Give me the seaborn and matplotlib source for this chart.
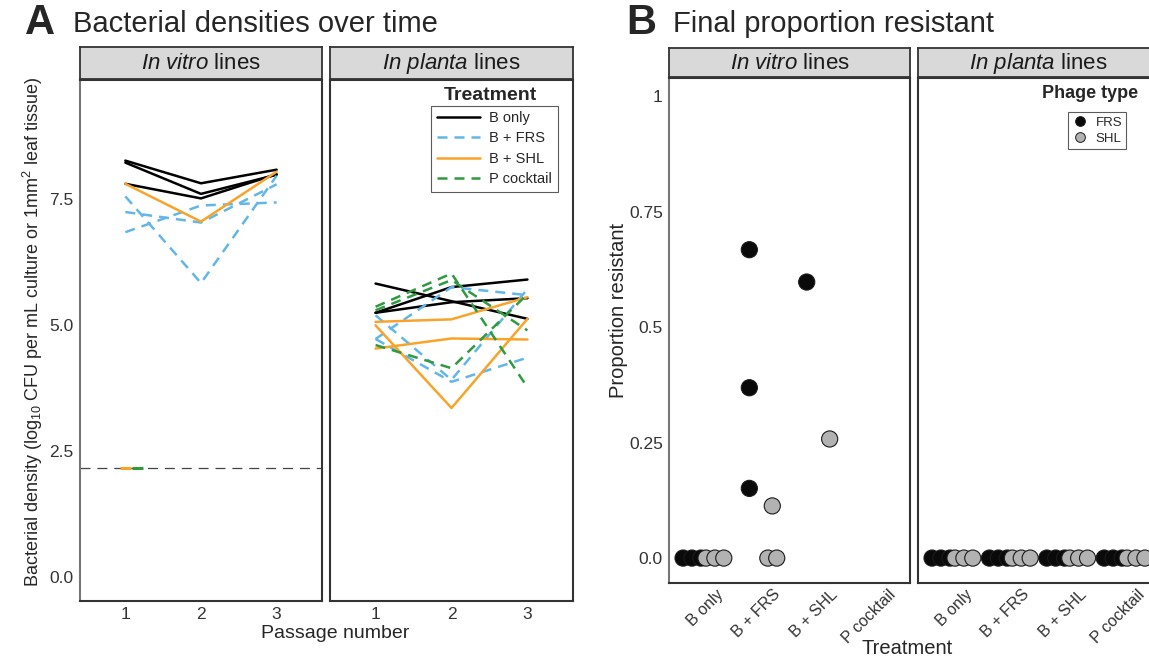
import matplotlib
matplotlib.use('Agg')
import matplotlib.pyplot as plt
from matplotlib.lines import Line2D
from matplotlib.transforms import ScaledTranslation
import numpy as np
import pandas as pd
import seaborn as sns

# ---------------- data ----------------
passages = [1, 2, 3]
treatments = ['B only', 'B + FRS', 'B + SHL', 'P cocktail']

# panel A: log10 bacterial density per line, passages 1-3
vitro_b_only = [[8.27, 7.82, 8.09], [8.23, 7.61, 7.99], [7.81, 7.52, 8.00]]
vitro_b_frs = [[7.56, 5.84, 7.97], [7.25, 7.04, 7.80], [6.85, 7.38, 7.44]]
vitro_b_shl = [[7.81, 7.06, 8.05]]
vitro_p_cocktail = []
planta_b_only = [[5.83, 5.48, 5.13], [5.25, 5.76, 5.91], [5.25, 5.46, 5.54]]
planta_b_frs = [[4.73, 5.76, 5.60], [5.20, 3.92, 5.72], [4.73, 3.88, 4.36]]
planta_b_shl = [[5.07, 5.12, 5.56], [5.00, 3.36, 5.13], [4.54, 4.74, 4.72]]
planta_p_cocktail = [[5.37, 6.03, 3.77], [5.30, 5.90, 4.90], [4.61, 4.15, 5.62]]
detection_limit = 2.17
extinct_vitro = ['B + SHL', 'P cocktail']

# panel B: final proportion resistant, per treatment
phage_types = ['FRS', 'SHL']
vitro_frs = [[0, 0, 0], [0.668, 0.369, 0.151], [0.598], []]
vitro_shl = [[0, 0, 0], [0.113, 0, 0], [0.258], []]
planta_frs = [[0, 0, 0], [0, 0, 0], [0, 0, 0], [0, 0, 0]]
planta_shl = [[0, 0, 0], [0, 0, 0], [0, 0, 0], [0, 0, 0]]

# ---------------- tidy tables ----------------
rows = []
line_id = 0
for env, groups in [('vitro', [vitro_b_only, vitro_b_frs, vitro_b_shl, vitro_p_cocktail]),
                    ('planta', [planta_b_only, planta_b_frs, planta_b_shl, planta_p_cocktail])]:
    for t, lines in zip(treatments, groups):
        for vals in lines:
            line_id += 1
            for p, v in zip(passages, vals):
                rows.append(dict(env=env, treatment=t, line=line_id, passage=p, density=v))
dens = pd.DataFrame(rows)

rows = []
for env, frs, shl in [('vitro', vitro_frs, vitro_shl), ('planta', planta_frs, planta_shl)]:
    for ti, t in enumerate(treatments):
        for phage, vals, shift in [('FRS', frs[ti], -0.2), ('SHL', shl[ti], 0.2)]:
            for k, v in enumerate(vals):
                # spread tied values sideways, like a dodge
                same = [i for i, u in enumerate(vals) if u == v]
                off = (same.index(k) - (len(same) - 1) / 2) * 0.155
                rows.append(dict(env=env, treatment=t, phage=phage, prop=v, x=ti + shift + off))
resist = pd.DataFrame(rows)

# ---------------- style ----------------
sns.set_style('white')
plt.rcParams['font.family'] = ['Liberation Sans', 'DejaVu Sans']
plt.rcParams['mathtext.fontset'] = 'custom'
plt.rcParams['mathtext.rm'] = 'Liberation Sans'
plt.rcParams['mathtext.it'] = 'Liberation Sans:italic'

palette = {'B only': 'black', 'B + FRS': '#62b6e8', 'B + SHL': '#f8a42a', 'P cocktail': '#2f9a3f'}
dashes = {'B only': '', 'B + FRS': (4, 2.8), 'B + SHL': '', 'P cocktail': (4, 2.8)}
edge = '#333333'
tick_col = '#333333'

W, H = 1149, 659
fig = plt.figure(figsize=(W / 100, H / 100), dpi=100)


def px_axes(x0, y0, x1, y1, **kw):
    # rectangle given in pixels from top-left
    return fig.add_axes([x0 / W, 1 - y1 / H, (x1 - x0) / W, (y1 - y0) / H], **kw)


def strip(x0, y0, x1, y1, label):
    s = px_axes(x0, y0, x1, y1)
    s.set_facecolor('#d9d9d9')
    s.set_xticks([])
    s.set_yticks([])
    for sp in s.spines.values():
        sp.set_color(edge)
        sp.set_linewidth(1.3)
    s.text(0.5, 0.47, label, ha='center', va='center', fontsize=16, color='#1a1a1a')


def frame(ax):
    for sp in ax.spines.values():
        sp.set_visible(True)
        sp.set_color(edge)
        sp.set_linewidth(1.5)
    ax.tick_params(colors=tick_col, labelcolor=tick_col, labelsize=12.5, length=3, width=1,
                   direction='out', pad=1.5)


# ---------------- panel A ----------------
axA1 = px_axes(80, 80, 322, 601)
axA2 = px_axes(330, 80, 573, 601)
for ax, env in [(axA1, 'vitro'), (axA2, 'planta')]:
    sub = dens[dens.env == env]
    sns.lineplot(data=sub, x='passage', y='density', hue='treatment', style='treatment',
                 units='line', estimator=None, hue_order=treatments, style_order=treatments,
                 palette=palette, dashes=dashes, lw=1.8, legend=False, ax=ax)
    ax.set_xlim(0.4, 3.6)
    ax.set_ylim(-0.47, 9.87)
    ax.set_xticks(passages)
    ax.set_yticks([0, 2.5, 5.0, 7.5])
    ax.set_xlabel('')
    ax.set_ylabel('')
    frame(ax)

axA1.set_yticklabels(['0.0', '2.5', '5.0', '7.5'])
axA2.tick_params(axis='y', left=False, labelleft=False)
axA1.spines['left'].set_color('#777777')
axA1.axhline(detection_limit, color='#444444', lw=0.9, dashes=(8, 5.5), zorder=1)
for i, t in enumerate(extinct_vitro):
    start = 0.93 + i * 0.16
    axA1.plot([start, start + 0.14], [detection_limit] * 2, color=palette[t], lw=2.2,
              solid_capstyle='butt', zorder=3)

strip(80, 47, 322, 79, r'$\mathit{In\ vitro}$ lines')
strip(330, 47, 573, 79, r'$\mathit{In\ planta}$ lines')

handles = [Line2D([], [], color=palette[t], lw=1.8,
                  dashes=dashes[t] if dashes[t] else (None, None)) for t in treatments]
legA = axA2.legend(handles, treatments, loc='upper left', bbox_to_anchor=(0.385, 0.965),
                   fontsize=10.5, frameon=True, fancybox=False, edgecolor='#333333',
                   handlelength=3, borderpad=0.4, labelspacing=0.42, handletextpad=0.6)
legA.get_frame().set_linewidth(0.8)
axA2.text(0.66, 0.971, 'Treatment', transform=axA2.transAxes, ha='center', va='center',
          fontsize=14, fontweight='bold')

fig.text(33 / W, 1 - 332 / H,
         r'Bacterial density (log$_{10}$ CFU per mL culture or 1mm$^2$ leaf tissue)',
         rotation=90, ha='center', va='center', fontsize=13)
fig.text(335 / W, 1 - 633 / H, 'Passage number', ha='center', va='center', fontsize=14)
fig.text(25 / W, 1 - 34 / H, 'A', fontsize=30, fontweight='bold', va='baseline')
fig.text(73 / W, 1 - 32 / H, 'Bacterial densities over time', fontsize=21, va='baseline')

# ---------------- panel B ----------------
axB1 = px_axes(669, 78, 910, 583)
axB2 = px_axes(918, 78, 1159, 583)
label_shift = ScaledTranslation(0.12, 0.06, fig.dpi_scale_trans)
for ax, env in [(axB1, 'vitro'), (axB2, 'planta')]:
    sub = resist[resist.env == env]
    sns.scatterplot(data=sub, x='x', y='prop', hue='phage', hue_order=phage_types,
                    palette={'FRS': '#0a0a0a', 'SHL': '#b2b2b2'}, s=135,
                    edgecolor='#1a1a1a', linewidth=0.8, legend=False, ax=ax, zorder=3)
    ax.set_xlim(-0.6, 3.6)
    ax.set_ylim(-0.054, 1.04)
    ax.set_xticks(range(len(treatments)))
    ax.set_xticklabels(treatments, rotation=45, ha='right', rotation_mode='anchor')
    ax.set_yticks([0, 0.25, 0.5, 0.75, 1])
    ax.set_xlabel('')
    ax.set_ylabel('')
    frame(ax)
    ax.tick_params(axis='x', pad=4, labelsize=11.5)
    for lab in ax.get_xticklabels():
        lab.set_transform(lab.get_transform() + label_shift)

axB1.set_yticklabels(['0.0', '0.25', '0.5', '0.75', '1'])
axB2.tick_params(axis='y', left=False, labelleft=False)
axB1.spines['left'].set_color('#777777')

strip(669, 48, 910, 77, r'$\mathit{In\ vitro}$ lines')
strip(918, 48, 1159, 77, r'$\mathit{In\ planta}$ lines')

handlesB = [Line2D([], [], ls='', marker='o', markersize=7, markerfacecolor=c,
                   markeredgecolor='#1a1a1a', markeredgewidth=0.7)
            for c in ['#0a0a0a', '#b2b2b2']]
legB = axB2.legend(handlesB, phage_types, loc='upper left', bbox_to_anchor=(0.595, 0.945),
                   fontsize=9.5, frameon=True, fancybox=False, edgecolor='#333333',
                   handlelength=1.2, borderpad=0.3, labelspacing=0.3, handletextpad=0.6)
legB.get_frame().set_linewidth(0.8)
axB2.text(0.515, 0.97, 'Phage type', transform=axB2.transAxes, ha='left', va='center',
          fontsize=13, fontweight='bold')

fig.text(618 / W, 1 - 310 / H, 'Proportion resistant', rotation=90, ha='center',
         va='center', fontsize=14.5)
fig.text(907 / W, 1 - 648 / H, 'Treatment', ha='center', va='center', fontsize=14.5)
fig.text(626 / W, 1 - 34 / H, 'B', fontsize=30, fontweight='bold', va='baseline')
fig.text(673 / W, 1 - 32 / H, 'Final proportion resistant', fontsize=21, va='baseline')

fig.savefig('out.png', dpi=100, facecolor='white')
